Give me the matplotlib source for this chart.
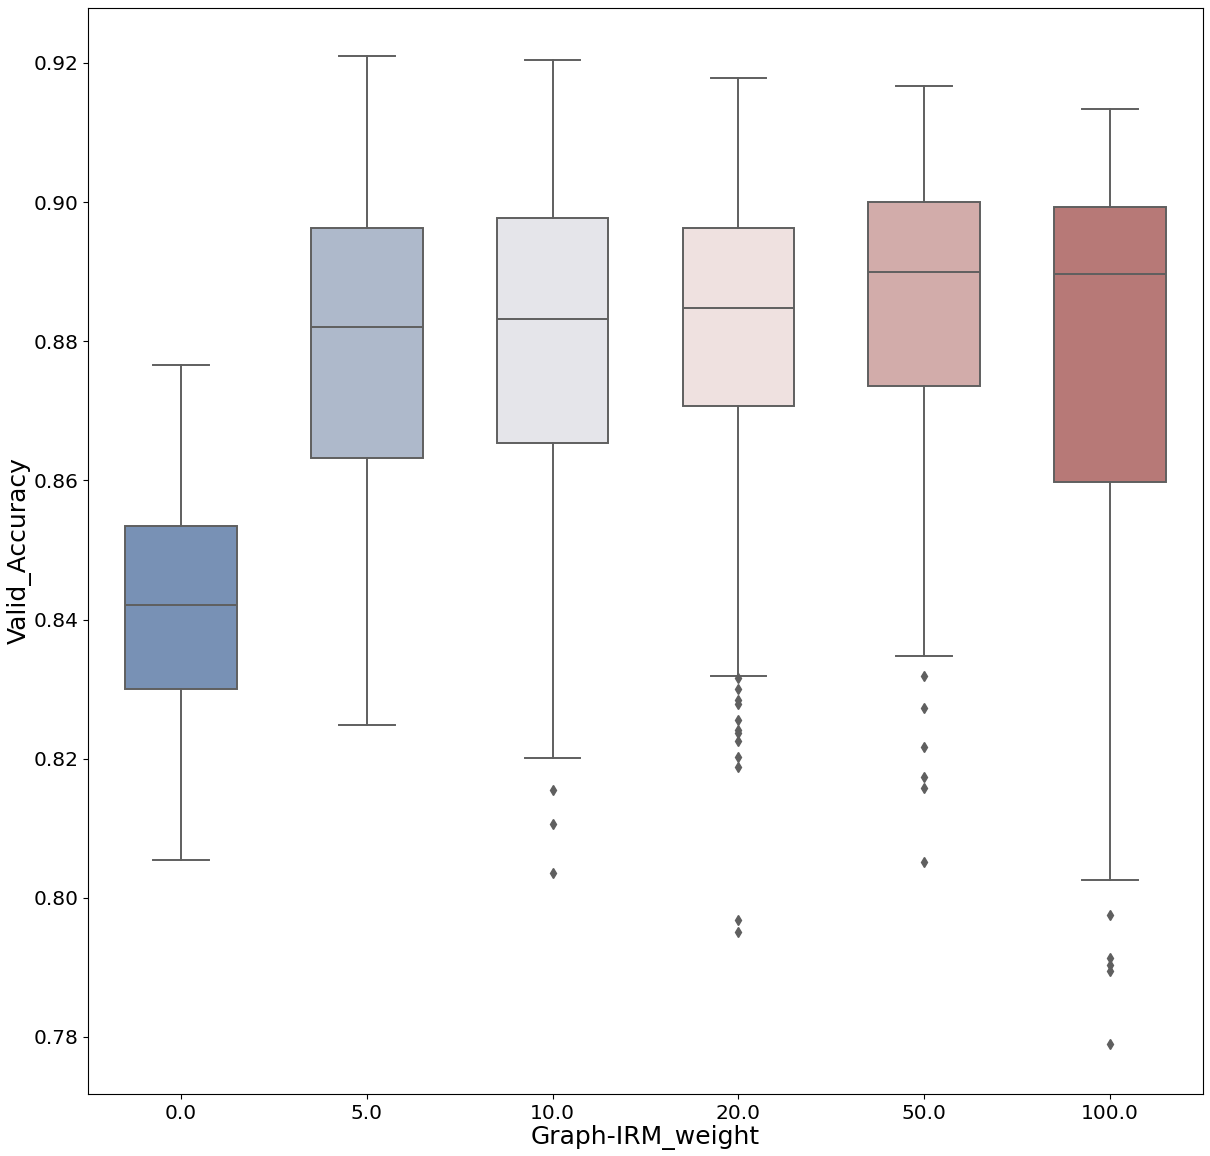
import matplotlib
matplotlib.use("Agg")
import matplotlib.pyplot as plt
import seaborn as sns

categories = ["0.0", "5.0", "10.0", "20.0", "50.0", "100.0"]
whislo = [0.8054, 0.8248, 0.8201, 0.8319, 0.8348, 0.8026]
q1 = [0.8300, 0.8632, 0.8654, 0.8707, 0.8736, 0.8598]
med = [0.8421, 0.8821, 0.8832, 0.8848, 0.8900, 0.8897]
q3 = [0.8534, 0.8963, 0.8977, 0.8963, 0.9000, 0.8993]
whishi = [0.8766, 0.9210, 0.9204, 0.9178, 0.9167, 0.9134]
fliers = [
    [],
    [],
    [0.8155, 0.8106, 0.8036],
    [0.8316, 0.8300, 0.8284, 0.8279, 0.8256, 0.8241, 0.8237, 0.8225, 0.8202, 0.8188, 0.7968, 0.7951],
    [0.8319, 0.8273, 0.8217, 0.8174, 0.8158, 0.8052],
    [0.7975, 0.7914, 0.7903, 0.7895, 0.7790],
]

colors = [sns.desaturate(c, 0.75) for c in sns.color_palette("vlag", 6)]
line_color = "#5f5f5f"

fig = plt.figure(figsize=(12.1, 11.56), dpi=100)
ax = fig.add_axes([88/1210, 62/1156, (1203-88)/1210, (1094-8)/1156])

stats = []
for i, c in enumerate(categories):
    stats.append(dict(label=c, whislo=whislo[i], q1=q1[i], med=med[i],
                      q3=q3[i], whishi=whishi[i], fliers=fliers[i]))

positions = list(range(len(categories)))
bp = ax.bxp(stats, positions=positions, widths=0.6, patch_artist=True,
            showfliers=True,
            boxprops=dict(edgecolor=line_color, linewidth=1.4),
            medianprops=dict(color=line_color, linewidth=1.4),
            whiskerprops=dict(color=line_color, linewidth=1.4),
            capprops=dict(color=line_color, linewidth=1.4),
            flierprops=dict(marker="d", markerfacecolor=line_color,
                            markeredgecolor=line_color, markersize=5),
            capwidths=0.3)
for patch, col in zip(bp["boxes"], colors):
    patch.set_facecolor(col)

ax.set_xlim(-0.5, 5.5)
ax.set_ylim(0.7718, 0.9279)
ax.set_yticks([0.78, 0.80, 0.82, 0.84, 0.86, 0.88, 0.90, 0.92])
ax.set_yticklabels(["0.78", "0.80", "0.82", "0.84", "0.86", "0.88", "0.90", "0.92"])
ax.set_xticks(positions)
ax.set_xticklabels(categories)
ax.tick_params(labelsize=14.5)
ax.set_xlabel("Graph-IRM_weight", fontsize=18, labelpad=2)
ax.set_ylabel("Valid_Accuracy", fontsize=18, labelpad=1)

fig.savefig("out.png", dpi=100)
